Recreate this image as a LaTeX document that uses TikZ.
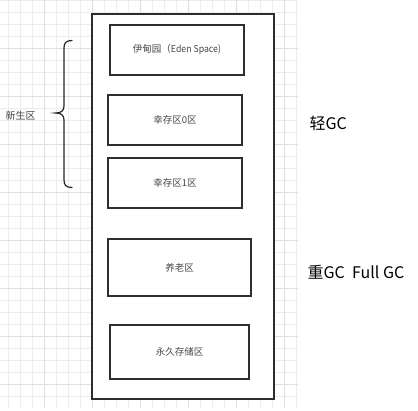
\documentclass[tikz,border=0pt]{standalone}
\usepackage{fontspec}
\setmainfont{Noto Sans CJK SC}
\begin{document}
\begin{tikzpicture}[x=1pt,y=-1pt,
  box/.style={draw=black!82,line width=1.2pt,fill=white,inner sep=0pt,font=\fontsize{9.5}{11}\selectfont,text=black!72},
  side/.style={inner sep=0pt,font=\fontsize{16}{18}\selectfont,text=black}]
\useasboundingbox (0,0) rectangle (418,411);
\fill[white] (0,0) rectangle (418,411);
% grid
\foreach \x in {8,20,...,296} \draw[black!7,line width=0.6pt] (\x,0) -- (\x,408);
\foreach \y in {0.5,12.5,...,408} \draw[black!7,line width=0.6pt] (0,\y) -- (298,\y);
\foreach \x in {44,92,...,296} \draw[black!12,line width=0.7pt] (\x,0) -- (\x,408);
\foreach \y in {48.5,96.5,...,408} \draw[black!12,line width=0.7pt] (0,\y) -- (298,\y);
% outer
\node[box,minimum width=182pt,minimum height=385pt] (heap) at (183,206.5) {};
\node[box,minimum width=134pt,minimum height=50pt] (eden) at (177,50) {伊甸园（\scalebox{0.92}[1]{Eden Space)}};
\node[box,minimum width=134pt,minimum height=50pt] (s0) at (175,120) {幸存区0区};
\node[box,minimum width=134pt,minimum height=50pt] (s1) at (175,183) {幸存区1区};
\node[box,minimum width=143pt,minimum height=57pt] (old) at (179.5,267.5) {养老区};
\node[box,minimum width=139pt,minimum height=54pt] (perm) at (179.5,352) {永久存储区};
% brace
\draw[black!85,line width=1.2pt,line cap=round]
  (72,40.5) .. controls (66,40.5) and (64,43) .. (64,48) -- (64,106)
  .. controls (64,111) and (61,113) .. (55.5,113)
  .. controls (61,113) and (64,115) .. (64,120) -- (64,180)
  .. controls (64,185) and (66,187.5) .. (72,187.5);
\node[inner sep=0pt,font=\fontsize{10}{12}\selectfont,text=black!72] (young) at (20.5,116) {新生区};
\node[side,anchor=west] (minor) at (309.5,123) {轻GC};
\node[side,anchor=west] (major) at (307.5,272) {重GC\hspace{0.45em}Full GC};
\end{tikzpicture}
\end{document}
